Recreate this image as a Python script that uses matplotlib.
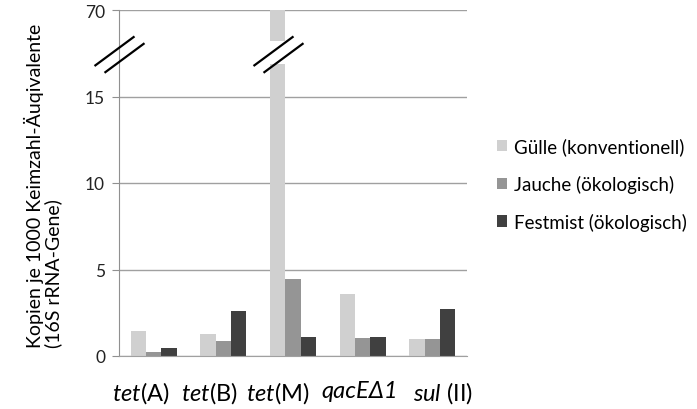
import matplotlib.pyplot as plt
import numpy as np
from matplotlib.path import Path

plt.rcParams['font.family'] = ['Lato', 'DejaVu Sans']
plt.rcParams['mathtext.fontset'] = 'custom'
plt.rcParams['mathtext.rm'] = 'Lato'
plt.rcParams['mathtext.it'] = 'Lato:italic'

genes = [r'$\it{tet}$(A)', r'$\it{tet}$(B)', r'$\it{tet}$(M)', 'qacEΔ1', r'$\it{sul}$ (II)']
guelle = [1.42, 1.25, 70.0, 3.6, 0.96]
jauche = [0.21, 0.87, 4.44, 1.02, 0.96]
festmist = [0.44, 2.58, 1.12, 1.12, 2.7]
series_names = ['Gülle (konventionell)', 'Jauche (ökologisch)', 'Festmist (ökologisch)']
colors = ['#d0d0d0', '#959595', '#404040']

y_ticks = [0, 5, 10, 15, 70]

# the gene names in the original sit a bit off the group centres
label_shift = [-0.19, -0.2, -0.22, -0.04, 0.15]

# axis is linear up to 15, then 15..70 squeezed into one tick step
BREAK = 15
TOP = 70
STEP = 5


def to_display(v):
    v = np.asarray(v, dtype=float)
    return np.where(v <= BREAK, v, BREAK + (v - BREAK) * STEP / (TOP - BREAK))


fig = plt.figure(figsize=(6.97, 4.10), dpi=100)
ax = fig.add_axes([119 / 697, 1 - 357 / 410, (467 - 119) / 697, (357 - 11) / 410])

x = np.arange(len(genes))
w = 0.22
for i, (vals, name, c) in enumerate(zip([guelle, jauche, festmist], series_names, colors)):
    ax.bar(x + (i - 1) * w, to_display(vals), width=w, color=c, label=name, zorder=2)

# gap in the bars that cross the break, plus the // marks
gap_lo, gap_hi = 16.86, 18.19
mark_y = 17.47
slash = Path([(-25, -11.5), (15, 18.1), (-15, -18.3), (25, 11.3)],
             [Path.MOVETO, Path.LINETO, Path.MOVETO, Path.LINETO])
for i, vals in enumerate([guelle, jauche, festmist]):
    for j, v in enumerate(vals):
        if v > BREAK:
            xc = x[j] + (i - 1) * w
            ax.bar(xc, gap_hi - gap_lo, bottom=gap_lo, width=w * 1.05, color='white', zorder=3)
            ax.plot([xc], [mark_y], marker=slash, markersize=36, markeredgewidth=1.6,
                     markeredgecolor='black', markerfacecolor='none', linestyle='none',
                     zorder=4, clip_on=False)
ax.plot([-0.5], [mark_y], marker=slash, markersize=36, markeredgewidth=1.6,
         markeredgecolor='black', markerfacecolor='none', linestyle='none',
         zorder=4, clip_on=False)

ax.set_xlim(-0.5, len(genes) - 0.5)
ax.set_ylim(0, float(to_display(TOP)))
ax.set_yticks(to_display(y_ticks))
ax.set_yticklabels([str(t) for t in y_ticks], fontsize=12.5, color='#222222')
ax.set_xticks(x + np.array(label_shift))
ax.set_xticklabels(genes, fontsize=17)
ax.get_xticklabels()[3].set_fontstyle('italic')
ax.tick_params(axis='x', length=0, pad=17)
ax.tick_params(axis='y', length=5, color='#909090', pad=5)

ax.yaxis.grid(True, color='#a0a0a0', linewidth=1)
ax.set_axisbelow(True)
for s in ['top', 'right']:
    ax.spines[s].set_visible(False)
ax.spines['left'].set_color('#909090')
ax.spines['bottom'].set_color('#a0a0a0')

fig.text(43 / 697, 1 - 348 / 410, 'Kopien je 1000 Keimzahl-Äuqivalente\n(16S rRNA-Gene)',
         rotation=90, ha='center', va='bottom', multialignment='left', fontsize=14,
         linespacing=1.05)

fig.legend(loc='center left', bbox_to_anchor=(497 / 697, 1 - 185 / 410), frameon=False,
           fontsize=13.5, handlelength=0.55, handleheight=0.55, handletextpad=0.37,
           labelspacing=1.05, borderpad=0, borderaxespad=0)

fig.savefig('out.png', dpi=100)
